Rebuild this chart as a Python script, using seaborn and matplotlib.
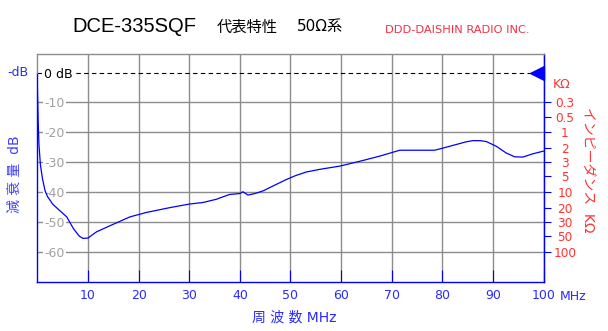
import numpy as np
import pandas as pd
import seaborn as sns
import matplotlib
matplotlib.use("Agg")
import matplotlib.pyplot as plt
from matplotlib.path import Path

# Attenuation characteristic of the DCE-335SQF (50 ohm system)
freq_mhz = [0.0, 0.15, 0.3, 0.6, 1.0, 1.5, 2.0, 3.0, 4.4, 5.8, 7.1, 8.3, 9.0,
            10.0, 10.7, 11.7, 14.3, 18.3, 21.6, 26.2, 30.1, 32.7, 35.4, 36.0,
            38.0, 40.0, 40.6, 41.6, 43.0, 44.6, 47.0, 49.2, 51.0, 53.1, 55.8,
            59.8, 63.7, 67.6, 71.6, 75.5, 78.5, 80.1, 82.5, 84.7, 86.0, 87.5,
            88.7, 90.7, 92.6, 94.3, 95.9, 97.9, 100.0]
atten_db = [-5.0, -16.0, -24.0, -31.0, -35.5, -39.5, -41.5, -44.0, -46.2,
            -48.3, -52.2, -54.8, -55.5, -55.4, -54.5, -53.3, -51.3, -48.3,
            -46.8, -45.2, -44.0, -43.5, -42.4, -42.0, -40.8, -40.5, -39.9,
            -41.0, -40.5, -39.6, -37.6, -35.8, -34.5, -33.3, -32.4, -31.3,
            -29.7, -28.0, -26.0, -26.0, -26.0, -25.3, -24.2, -23.2, -22.8,
            -22.8, -23.1, -24.7, -26.9, -28.2, -28.3, -27.2, -26.3]

freq_ticks = [10, 20, 30, 40, 50, 60, 70, 80, 90, 100]
db_ticks = [-60, -50, -40, -30, -20, -10, 0]
db_labels = ["-60", "-50", "-40", "-30", "-20", "-10", "0 dB"]

# impedance scale: kOhm values and the attenuation level each one reads at
kohm_ticks = [0.3, 0.5, 1, 2, 3, 5, 10, 20, 30, 50, 100]
kohm_labels = ["0.3", "0.5", "1", "2", "3", "5", "10", "20", "30", "50", "100"]
kohm_level_db = [-10, -15, -20, -25.3, -30, -34.6, -40, -45.4, -50, -54.6, -60]

BLUE = "#0000ff"
TXT_BLUE = "#2a2aff"
RED = "#ff3333"
GRID = "#8c8c8c"
W, H = 608, 331

sns.set_style("white")
plt.rcParams["font.family"] = ["DejaVu Sans", "Noto Sans CJK JP"]

fig = plt.figure(figsize=(W / 100, H / 100), dpi=100)
ax = fig.add_axes([37.4 / W, 1 - 281.7 / H, 506.1 / W, 227.7 / H])

df = pd.DataFrame({"freq": freq_mhz, "att": atten_db})
sns.lineplot(data=df, x="freq", y="att", ax=ax, color=BLUE, lw=0.9,
             estimator=None, sort=False, zorder=4)

ax.set_xlim(0, 100)
ax.set_ylim(-70, 6.2)
ax.set_xlabel("")
ax.set_ylabel("")

ax.set_xticks(freq_ticks)
ax.set_xticklabels([str(v) for v in freq_ticks])
ax.set_yticks(db_ticks)
ax.set_yticklabels(db_labels)
ax.grid(True, color=GRID, lw=1.0)

ax.tick_params(axis="x", direction="in", length=8.6, width=0.8, color=BLUE,
               labelcolor=TXT_BLUE, labelsize=9, pad=5, bottom=True)
ax.tick_params(axis="y", left=True, length=0, pad=-5,
               labelcolor="#a0a0a0", labelsize=9)
for lbl in ax.get_yticklabels():
    lbl.set_horizontalalignment("left")
    lbl.set_bbox(dict(boxstyle="square,pad=0.12", fc="white", ec="none"))
ax.get_yticklabels()[db_ticks.index(0)].set_color("black")

# 0 dB reference drawn dashed
ref_tick = ax.yaxis.get_major_ticks()[db_ticks.index(0)]
ref_tick.gridline.set_color("black")
ref_tick.gridline.set_linestyle((0, (4, 3)))
ref_tick.gridline.set_linewidth(0.8)

# frame
ax.spines["top"].set_color(GRID)
ax.spines["top"].set_linewidth(1.0)
for side in ("left", "bottom", "right"):
    ax.spines[side].set_color(BLUE)
    ax.spines[side].set_linewidth(1.0)
ymin, ymax = ax.get_ylim()
ax.spines["left"].set_bounds(ymin, 0)
ax.axvline(0, ymin=(0 - ymin) / (ymax - ymin), ymax=1, color=GRID, lw=1.0,
           clip_on=False, zorder=3)

# impedance scale on the right: piecewise log mapping, 20 dB/decade outside
_lvl = -np.asarray(kohm_level_db, dtype=float)
_logz = np.log10(np.asarray(kohm_ticks, dtype=float))


def db_to_kohm(db):
    db = np.asarray(db, dtype=float)
    x = np.atleast_1d(-db)
    out = np.interp(x, _lvl, _logz)
    lo, hi = x < _lvl[0], x > _lvl[-1]
    out[lo] = _logz[0] + (x[lo] - _lvl[0]) / 20
    out[hi] = _logz[-1] + (x[hi] - _lvl[-1]) / 20
    return (10 ** out).reshape(db.shape)


def kohm_to_db(z):
    z = np.asarray(z, dtype=float)
    lz = np.atleast_1d(np.log10(np.clip(z, 1e-12, None)))
    out = np.interp(lz, _logz, _lvl)
    lo, hi = lz < _logz[0], lz > _logz[-1]
    out[lo] = _lvl[0] + (lz[lo] - _logz[0]) * 20
    out[hi] = _lvl[-1] + (lz[hi] - _logz[-1]) * 20
    return (-out).reshape(z.shape)


sec = ax.secondary_yaxis("right", functions=(db_to_kohm, kohm_to_db))
sec.set_yticks(kohm_ticks)
sec.set_yticklabels(kohm_labels)
sec.tick_params(direction="out", length=5, width=0.8, color=BLUE,
                labelcolor=RED, labelsize=8.7, pad=10.5)
for lbl in sec.get_yticklabels():
    lbl.set_horizontalalignment("center")
sec.spines["right"].set_color(BLUE)

# level marker at the band edge
tri = Path([(0, 0.5), (-1, 0), (0, -0.5), (0, 0.5)],
           [Path.MOVETO, Path.LINETO, Path.LINETO, Path.CLOSEPOLY])
ax.plot([freq_ticks[-1]], [0], marker=tri, ms=20, color=BLUE,
        linestyle="none", clip_on=False, zorder=5)

# titles and axis captions
fig.text(72 / W, 1 - 27 / H, "DCE-335SQF", family="Liberation Sans",
         fontsize=14.5, ha="left", va="center", color="black")
fig.text(217 / W, 1 - 27 / H, "代表特性", family="Noto Sans CJK JP",
         fontsize=11, ha="left", va="center", color="black")
fig.text(297 / W, 1 - 27 / H, "50Ω系", family=["DejaVu Sans", "Noto Sans CJK JP"],
         fontsize=11, ha="left", va="center", color="black")
fig.text(385 / W, 1 - 30 / H, "DDD-DAISHIN RADIO INC.", fontsize=8.2,
         ha="left", va="center", color="#f03040")

fig.text(17.5 / W, 1 - 72.7 / H, "-dB", fontsize=9, ha="center",
         va="center", color=TXT_BLUE)
fig.text(15 / W, 1 - 174 / H, "減 衰 量  dB", fontsize=10, rotation=90,
         ha="center", va="center", color="#4040ff")
fig.text(294 / W, 1 - 318 / H, "周 波 数 MHz", fontsize=10, ha="center",
         va="center", color=TXT_BLUE)
fig.text(573 / W, 1 - 296 / H, "MHz", fontsize=9, ha="center",
         va="center", color=TXT_BLUE)
fig.text(562 / W, 1 - 85 / H, "KΩ", fontsize=9, ha="center",
         va="center", color=RED)
fig.text(588 / W, 1 - 170 / H, "インピーダンス  KΩ", fontsize=10,
         rotation=-90, ha="center", va="center", color=RED)

fig.savefig("out.png", dpi=100)
